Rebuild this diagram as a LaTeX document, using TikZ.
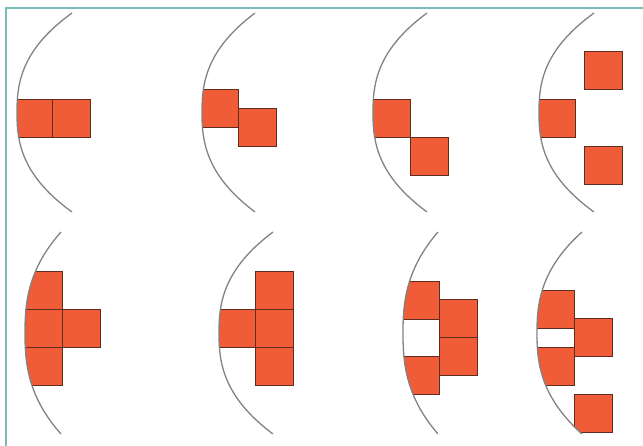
\documentclass[tikz,border=0pt]{standalone}
\usepackage{xcolor}
\usepackage{tikz}
\usetikzlibrary{positioning}
\definecolor{tileorange}{RGB}{240,92,56}
\definecolor{tileedge}{RGB}{95,45,32}
\definecolor{bowgray}{RGB}{130,130,130}
\definecolor{frameteal}{RGB}{120,188,184}
\newcommand{\bow}[4]{plot[variable=\t,domain=-1:1,samples=61,smooth]
  ({#1+#3*\t*\t*sqrt(abs(\t))},{#2+#4*\t})}

\begin{document}
\begin{tikzpicture}[
x=1pt, y=-1pt,
cell/.style={
draw=tileedge,
fill=tileorange,
line width=0.9pt,
minimum size=38pt,
inner sep=0pt,
outer sep=0pt
},
bowline/.style={draw=bowgray, line width=1.3pt},
framerule/.style={draw=frameteal, line width=1.4pt}
]
\useasboundingbox (0,0) rectangle (643,446);

% top row
\begin{scope}
\clip \bow{17}{112.5}{55}{99.5} -- ++(0,8) -- ++(120,0) -- ++(0,-215) -- ++(-120,0) -- cycle;
\node[cell] (oneL) at (33,118) {};
\node[cell, right=0pt of oneL] (oneR) {};
\end{scope}

\begin{scope}
\clip \bow{202}{112.5}{53}{99.5} -- ++(0,8) -- ++(120,0) -- ++(0,-215) -- ++(-120,0) -- cycle;
\node[cell] (twoA) at (219,108) {};
\node[cell] (twoB) at (257,127.5) {};
\end{scope}

\begin{scope}
\clip \bow{373}{112.5}{54}{99.5} -- ++(0,8) -- ++(120,0) -- ++(0,-215) -- ++(-120,0) -- cycle;
\node[cell] (threeA) at (391,118) {};
\node[cell, below right=0pt and 0pt of threeA] (threeB) {};
\end{scope}

\begin{scope}
\clip \bow{539}{112.5}{55}{99.5} -- ++(0,8) -- ++(120,0) -- ++(0,-215) -- ++(-120,0) -- cycle;
\node[cell] (fourL) at (556,118) {};
\node[cell] (fourU) at (603,70) {};
\node[cell] (fourD) at (603,165) {};
\end{scope}

% bottom row
\begin{scope}
\clip \bow{25}{333}{36}{101} -- ++(0,8) -- ++(120,0) -- ++(0,-218) -- ++(-120,0) -- cycle;
\node[cell] (fiveM) at (43,328.5) {};
\node[cell, above=0pt of fiveM] (fiveT) {};
\node[cell, below=0pt of fiveM] (fiveB) {};
\node[cell, right=0pt of fiveM] (fiveR) {};
\end{scope}

\begin{scope}
\clip \bow{219}{333}{54}{101} -- ++(0,8) -- ++(120,0) -- ++(0,-218) -- ++(-120,0) -- cycle;
\node[cell] (sixM) at (274,328.5) {};
\node[cell, left=0pt of sixM] (sixL) {};
\node[cell, above=0pt of sixM] (sixT) {};
\node[cell, below=0pt of sixM] (sixB) {};
\end{scope}

\begin{scope}
\clip \bow{403}{333}{35}{101} -- ++(0,8) -- ++(120,0) -- ++(0,-218) -- ++(-120,0) -- cycle;
\node[cell] (sevenU) at (458,318) {};
\node[cell, below=0pt of sevenU] (sevenD) {};
\node[cell] (sevenT) at (420,300.5) {};
\node[cell, below=37pt of sevenT] (sevenB) {};
\end{scope}

\begin{scope}
\clip \bow{537}{333}{45}{101} -- ++(0,8) -- ++(120,0) -- ++(0,-218) -- ++(-120,0) -- cycle;
\node[cell] (eightT) at (555,309) {};
\node[cell, below=19pt of eightT] (eightB) {};
\node[cell] (eightR) at (593.5,337.5) {};
\node[cell, below=38pt of eightR] (eightS) {};
\end{scope}

% bows
\foreach \vx/\yc/\w/\h in {17/112.5/55/99.5, 202/112.5/53/99.5, 373/112.5/54/99.5, 539/112.5/55/99.5,
25/333/36/101, 219/333/54/101, 403/333/35/101, 537/333/45/101}
  \draw[bowline] \bow{\vx}{\yc}{\w}{\h};

\draw[framerule] (643,8) -| (6,446);
\end{tikzpicture}
\end{document}
